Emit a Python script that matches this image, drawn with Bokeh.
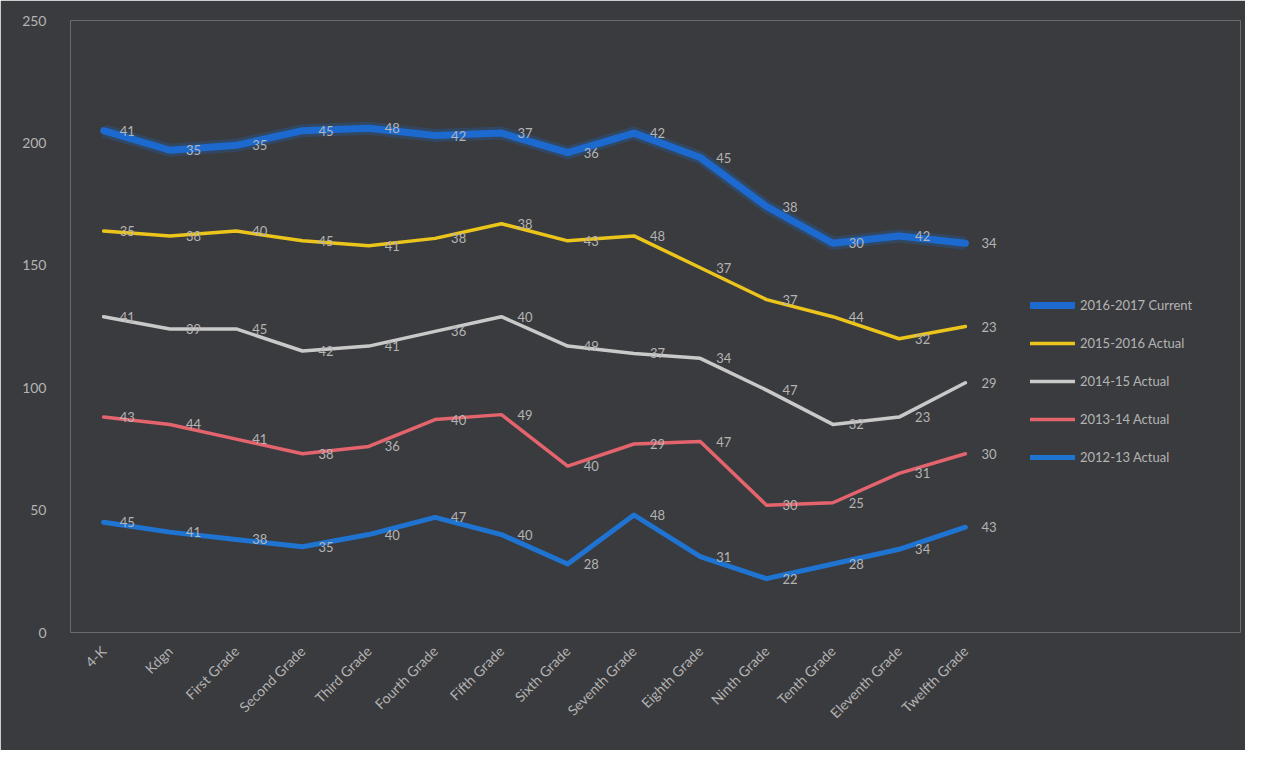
import numpy as np
from bokeh.plotting import figure
from bokeh.models import Legend, LegendItem, Range1d, FixedTicker
from bokeh.core.properties import value
from bokeh.embed import file_html
from bokeh.resources import INLINE
import math

grades = ["4-K", "Kdgn", "First Grade", "Second Grade", "Third Grade", "Fourth Grade",
          "Fifth Grade", "Sixth Grade", "Seventh Grade", "Eighth Grade", "Ninth Grade",
          "Tenth Grade", "Eleventh Grade", "Twelfth Grade"]

s2012_13 = [45, 41, 38, 35, 40, 47, 40, 28, 48, 31, 22, 28, 34, 43]
s2013_14 = [43, 44, 41, 38, 36, 40, 49, 40, 29, 47, 30, 25, 31, 30]
s2014_15 = [41, 39, 45, 42, 41, 36, 40, 49, 37, 34, 47, 32, 23, 29]
s2015_16 = [35, 38, 40, 45, 41, 38, 38, 43, 48, 37, 37, 44, 32, 23]
s2016_17 = [41, 35, 35, 45, 48, 42, 37, 36, 42, 45, 38, 30, 42, 34]

series_names = ["2012-13 Actual", "2013-14 Actual", "2014-15 Actual",
                "2015-2016 Actual", "2016-2017 Current"]
series = [s2012_13, s2013_14, s2014_15, s2015_16, s2016_17]
colors = ["#1f74d2", "#e4646e", "#c9c9c9", "#ecc51c", "#1c6ad0"]
widths = [5, 3.5, 3.5, 3.5, 7]

BG = "#3a3b3e"
TXT = "#b4b4b4"
FONT = "Lato"

xs = list(range(len(grades)))

p = figure(width=1245, height=750, x_range=Range1d(-0.5, 17.15),
           y_range=Range1d(0, 250), output_backend="svg", toolbar_location=None,
           min_border_left=70, min_border_right=5, min_border_top=20, min_border_bottom=118,
           background_fill_color=BG, border_fill_color=BG,
           outline_line_color=None)
p.border_line_color = None
p.xgrid.grid_line_color = None
p.ygrid.grid_line_color = None

cum = np.zeros(len(grades))
renderers = []
for vals, name, c, w in zip(series, series_names, colors, widths):
    cum = cum + np.array(vals)
    ys = list(cum)
    if w > 5:
        p.line(xs, ys, line_color=c, line_width=w + 6, line_alpha=0.25, line_join="round")
    r = p.line(xs, ys, line_color=c, line_width=w, line_join="round", line_cap="round")
    renderers.append((name, r))
    p.text(xs, ys, text=[str(v) for v in vals], x_offset=16, y_offset=0,
           text_align="left", text_baseline="middle", text_color=TXT,
           text_font=value(FONT), text_font_size="13px")

p.xaxis.ticker = FixedTicker(ticks=xs)
p.xaxis.major_label_overrides = {i: g for i, g in enumerate(grades)}
p.yaxis.ticker = FixedTicker(ticks=[0, 50, 100, 150, 200, 250])
for ax in (p.xaxis, p.yaxis):
    ax.axis_line_color = None
    ax.major_tick_line_color = None
    ax.minor_tick_line_color = None
    ax.major_label_text_color = TXT
    ax.major_label_text_font = FONT
    ax.major_label_text_font_size = "14px"
p.yaxis.major_label_standoff = 18
p.xaxis.major_label_orientation = math.pi / 4
p.xaxis.major_label_standoff = 10

items = [LegendItem(label=n, renderers=[r]) for n, r in reversed(renderers)]
legend = Legend(items=items, location=(950, 155), background_fill_alpha=0,
                border_line_alpha=0, label_text_color=TXT, label_text_font=FONT,
                label_text_font_size="13px", glyph_width=45, spacing=18)
p.add_layout(legend, "center")

open("out.html", "w").write(file_html(p, INLINE))
